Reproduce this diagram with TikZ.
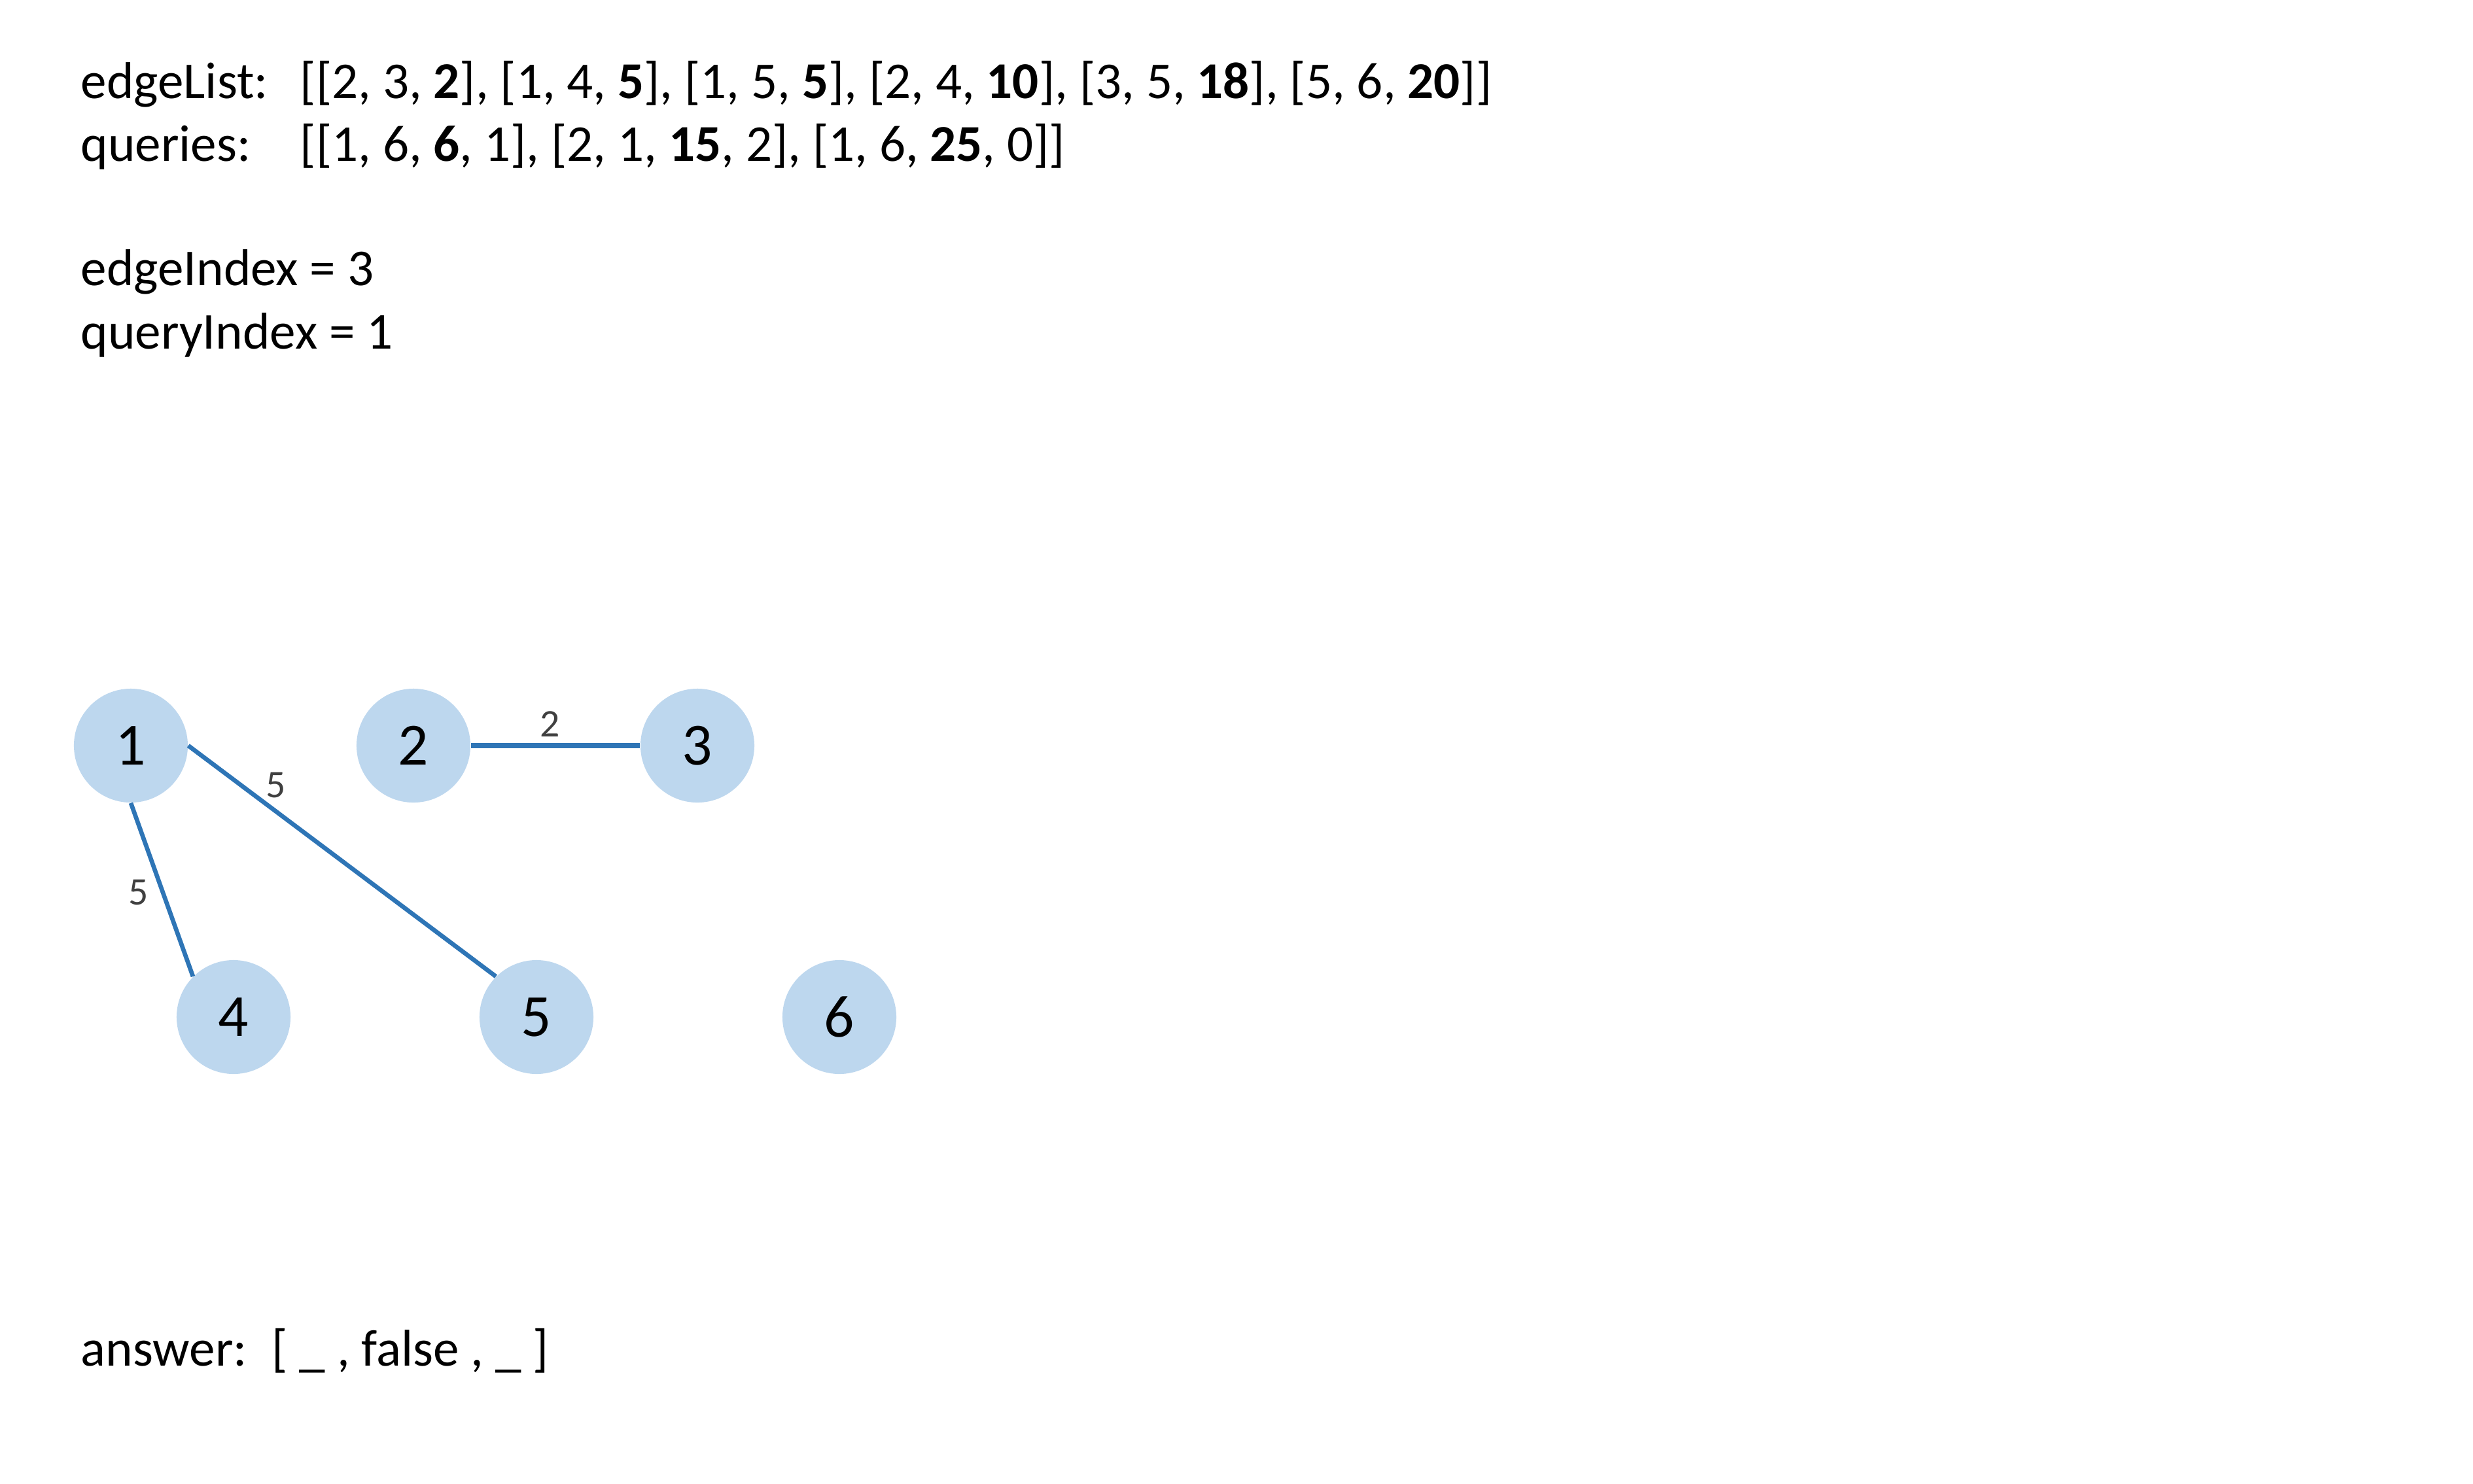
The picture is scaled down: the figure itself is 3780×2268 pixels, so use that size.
\documentclass[tikz,border=0pt]{standalone}
\usepackage{fontspec}
\setmainfont{Carlito}
\definecolor{nodefill}{HTML}{BDD7EE}
\definecolor{edgeblue}{HTML}{2E75B6}
\definecolor{lblgray}{HTML}{404040}
\begin{document}
\begin{tikzpicture}[x=0.01cm,y=-0.01cm,
  txt/.style={anchor=base west,inner sep=0pt,font=\fontsize{22.5}{27}\selectfont},
  vert/.style={circle,fill=nodefill,minimum size=1.74cm,inner sep=0pt,font=\fontsize{26}{30}\selectfont},
  edge/.style={draw=edgeblue,line width=1.9pt},
  thickedge/.style={draw=edgeblue,line width=2.4pt},
  wlabel/.style={inner sep=0pt,text=lblgray,font=\fontsize{17}{20}\selectfont}]
\useasboundingbox[fill=white] (0,0) rectangle (3780,2268);
% text lines
\node[txt] (el) at (123,150) {edgeList:};
\node[txt] (ell) at (458,150) {[[2, 3, \textbf{2}], [1, 4, \textbf{5}], [1, 5, \textbf{5}], [2, 4, \textbf{10}], [3, 5, \textbf{18}], [5, 6, \textbf{20}]]};
\node[txt] (q) at (123,246) {queries:};
\node[txt] (ql) at (458,246) {[[1, 6, \textbf{6}, 1], [2, 1, \textbf{15}, 2], [1, 6, \textbf{25}, 0]]};
\node[txt] (ei) at (123,436) {edgeIndex = 3};
\node[txt] (qi) at (123,533) {queryIndex = 1};
\node[txt] (ans) at (123,2088) {answer:};
\node[txt] (ansl) at (415,2088) {[ \_ , false , \_ ]};
% vertices
\node[vert] (n1) at (200,1140) {1};
\node[vert] (n2) at (632,1140) {2};
\node[vert] (n3) at (1066,1140) {3};
\node[vert] (n4) at (357,1555) {4};
\node[vert] (n5) at (820,1555) {5};
\node[vert] (n6) at (1283,1555) {6};
% edges
\draw[thickedge] (n2.east) -- (n3.west);
\draw[edge] (n1.east) -- (n5.north west);
\draw[edge] (n1.south) -- (n4.north west);
% weights
\node[wlabel] (w23) at (841,1107) {2};
\node[wlabel] (w15) at (422,1200) {5};
\node[wlabel] (w14) at (212,1364) {5};
\end{tikzpicture}
\end{document}
